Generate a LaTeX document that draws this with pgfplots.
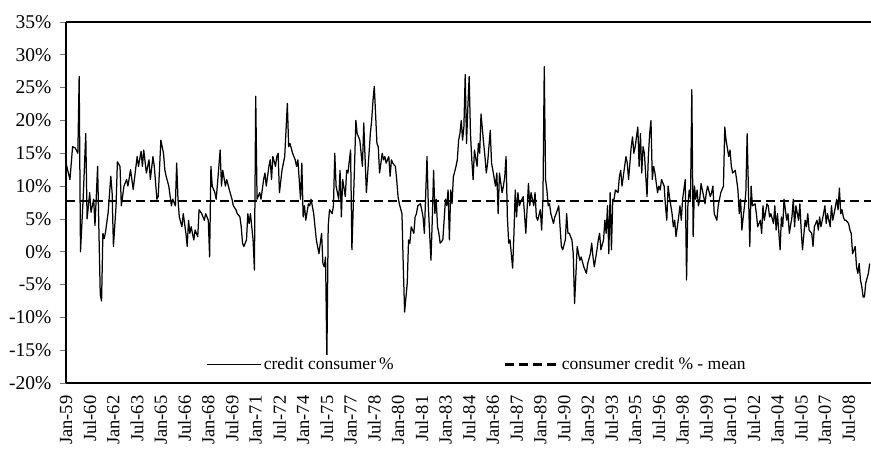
\documentclass[border=0pt]{standalone}
\usepackage{fontspec}
\setmainfont{Liberation Serif}
\usepackage{pgfplots}
\pgfplotsset{compat=1.18}

% monthly series, x = months since Jan-59, y = percent
\pgfplotstableread{
m v
0 13.5
3 11
5 16
7 15.8
9 15
10 26.7
11 0
13 8
15 18
16 5
18 9
19 6
21 8
22 4
24 13
25 3
26 -6.5
27 -7.5
28 2.8
29 2
30 3
32 6
34 11.5
35 9
36 0.8
38 7
39 13.7
41 13
42 7
44 10
46 11
47 10
49 12.5
51 9.5
54 14.5
55 13
57 15.3
58 13
59 15.5
61 12
63 14
64 11
66 14.5
67 13
69 8
70 8.4
72 17
74 15
75 12.5
76 11.5
78 10
80 7
81 8
83 7
84 13.5
85 8
86 5.3
88 3.8
89 5.8
91 2.8
92 0.8
93 4.8
94 2.8
95 3.8
97 1.8
98 3.3
100 2.3
101 6.4
103 5.8
105 4.8
106 5.8
108 4.8
109 -0.8
110 13
111 10
113 9
114 8
115 10.4
117 15.5
118 10
119 12.4
121 10
122 11
124 9.4
126 8
127 7
129 6.4
130 5.8
132 5.3
133 3.8
134 1.3
135 0.8
137 1.8
138 5.8
139 4.3
140 5.8
142 1.8
143 -2.8
144 23.7
145 8
147 9
148 8
150 11
151 12
152 10
154 13
155 14
156 11
157 14.5
159 13
160 14.5
161 15
162 9
164 12.5
165 13.5
166 14.5
168 22.6
169 16
170 16.5
172 15
174 14
175 13
176 14
178 8
179 13.5
180 5.3
181 7
182 4.8
184 7.3
185 7
186 8
188 5.8
190 1.8
192 -0.3
193 1.3
194 2.8
195 -1.8
196 -2.3
197 -0.8
198 -16.3
199 3.8
200 6.4
202 5.8
203 7
204 15
205 10
207 8
208 12.4
209 5.3
210 11
212 8.4
213 12.4
214 12
216 15.5
217 0.3
219 13
220 20
221 18
223 17
225 13
226 19.6
228 9
229 12
231 18
232 20
233 23
234 25.2
236 16.5
237 16
238 12
240 15
241 14
242 14.5
243 13.5
245 14.5
246 11.5
247 14
248 13.5
250 13
251 11
252 8.4
253 7.3
255 5.8
256 -2.3
257 -9.2
259 -4.8
260 1.8
261 1.3
262 3.8
264 2.8
265 5.3
266 5.8
267 7
269 7.3
270 6.4
271 5.3
272 2.8
274 14.5
275 7
276 2.8
277 -1.3
278 4.8
279 12.4
280 5.8
281 8
282 3.8
283 2.8
284 1.3
286 1.8
287 4.8
288 8
289 7
290 9.4
291 1.8
292 9.4
293 7.3
294 11.4
296 13
297 14
298 17
299 18
300 20
301 17
302 19
303 27
304 16.5
305 22
306 26.7
307 18
308 14
309 11
310 15.5
312 13
313 16.5
314 15
315 21
317 16.5
318 14.5
319 12
320 13.5
322 18.5
323 13.5
324 12.4
326 10
327 12
328 5.8
329 12
331 9
332 10
333 11.4
334 14.5
335 5.3
336 1.3
337 1.8
339 -2.5
340 2.8
341 9.4
342 5.3
343 9
344 7
346 8
347 8.4
348 5.8
349 2.8
351 10.4
352 7
353 9
355 7
356 9
357 5.3
358 4.8
360 6.4
361 3.3
362 8
363 28.2
364 11
365 9.4
366 7
367 7.3
368 5.8
370 4.3
371 5.3
372 5.8
374 7
375 3.8
376 0.8
377 0.3
379 1.8
380 5.8
381 2.8
382 2.8
384 1.8
385 -0.3
386 -7.9
388 0.8
389 -0.3
390 -1.3
391 -0.8
393 -2.3
394 -2.8
395 -3.3
396 -1.8
398 -0.3
399 1.3
400 -0.8
401 -2.3
403 0.3
404 1.8
405 2.8
406 0.3
408 1.8
409 4.8
410 2.8
411 7
412 -0.3
413 9
414 0.3
415 8
416 8
417 9.4
419 9
420 11.4
421 12.4
422 10
424 13
425 14.5
426 13.5
427 11
429 16
430 17.5
431 15
432 16
434 19
435 13
436 18
437 12
438 16
439 15
441 8.4
442 14.5
443 18
444 20
445 11
446 13
447 12
449 9
450 10
451 9.4
452 11
454 10
455 7
456 4.8
457 10
458 8.4
460 5.8
461 3.8
462 4.8
463 2.3
465 5.3
466 7
467 4.8
468 8
470 11
471 -4.3
472 7
473 9.4
474 8
475 24.7
476 2.3
477 10
478 8
479 9.4
480 7
481 8
482 10.4
484 8.4
485 7.3
486 9
487 10
489 8.4
490 9
491 10
492 5.8
494 4.8
495 7
496 8
497 9
499 10
500 19
501 17
503 14.5
504 15.5
505 13
506 12
508 12.4
509 11
510 9.4
511 5.8
512 8
513 3.3
514 5.3
515 7
516 9
517 18
518 9
519 0.8
520 10
521 7
523 7.3
524 5.8
525 3.8
527 4.8
528 2.8
529 7
530 4.8
532 7.3
533 7
534 5.3
535 5.8
537 4.3
538 7
539 3.3
540 5.8
542 0.3
543 5.3
544 3.8
545 8
547 4.8
548 5.8
549 2.8
551 5.3
552 8
553 3.8
554 7
556 4.8
557 7.3
558 3.3
559 0.3
561 4.8
562 3.8
563 5.8
564 3.3
566 2.8
567 0.8
568 3.8
570 4.8
571 3.3
572 5.3
573 3.8
575 5.8
576 7
577 4.3
578 5.8
580 3.8
581 7
582 4.8
583 5.8
585 8
586 6.4
587 9.7
588 5.8
589 6.4
590 5.3
591 4.8
592 4.8
594 4.3
595 3.3
596 2.8
597 -0.3
599 0.8
600 -2.3
601 -3.3
602 -1.8
603 -4.3
604 -5.3
605 -6.9
606 -6.9
607 -4.8
609 -3.3
610 -1.8
}\credit

\begin{document}
\begin{tikzpicture}
\useasboundingbox (0,0) rectangle (871pt,451pt);
\begin{axis}[
    at={(66pt,68pt)}, anchor=south west,
    scale only axis,
    width=805pt, height=361pt,
    xmin=0, xmax=611,
    ymin=-20, ymax=35,
    axis x line*=box,
    axis y line*=left,
    axis line style={line width=1.3pt, black},
    xtick={0,18,...,594},
    xticklabels={Jan-59,Jul-60,Jan-62,Jul-63,Jan-65,Jul-66,Jan-68,Jul-69,Jan-71,Jul-72,Jan-74,Jul-75,Jan-77,Jul-78,Jan-80,Jul-81,Jan-83,Jul-84,Jan-86,Jul-87,Jan-89,Jul-90,Jan-92,Jul-93,Jan-95,Jul-96,Jan-98,Jul-99,Jan-01,Jul-02,Jan-04,Jul-05,Jan-07,Jul-08},
    ytick={-20,-15,...,35},
    yticklabels={-20\%,-15\%,-10\%,-5\%,0\%,5\%,10\%,15\%,20\%,25\%,30\%,35\%},
    xticklabel style={rotate=90, anchor=east, font=\fontsize{18.5}{20}\selectfont},
    xticklabel shift=3pt,
    yticklabel style={xshift=-5pt, font=\fontsize{19.5}{22}\selectfont},
    x tick style={draw=none},
    y tick style={draw=black!55, line width=0.8pt},
    tick align=outside,
    major tick length=6pt,
    legend style={draw=none, fill=white, at={(axis cs:312,-17.2)}, anchor=center,
        font=\fontsize{17.5}{20}\selectfont, inner sep=1pt,
        /tikz/every even column/.append style={column sep=108pt}},
    legend columns=2,
    legend cell align=left,
    legend image code/.code={\draw[#1] (0pt,0pt) -- (54pt,0pt);},
]
\addplot[black, line width=1.25pt, line join=round] table[x=m, y=v] {\credit};
\addlegendentry{credit consumer\,\%}
\addplot[black, line width=2.3pt, dash pattern=on 9pt off 5pt] coordinates {(0,7.75) (611,7.75)};
\addlegendentry{consumer credit \% - mean}
\end{axis}
\end{tikzpicture}
\end{document}
